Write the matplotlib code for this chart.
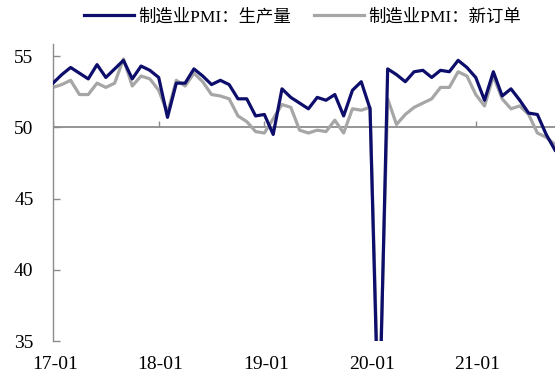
import numpy as np
import matplotlib
matplotlib.use('Agg')
import matplotlib.pyplot as plt

plt.rcParams['font.family'] = ['Liberation Serif', 'Noto Sans CJK SC']

# monthly, 2017-01 .. 2021-10
production = [53.1, 53.7, 54.2, 53.8, 53.4, 54.4, 53.5, 54.1, 54.7, 53.4, 54.3, 54.0,
              53.5, 50.7, 53.1, 53.1, 54.1, 53.6, 53.0, 53.3, 53.0, 52.0, 52.0, 50.8,
              50.9, 49.5, 52.7, 52.1, 51.7, 51.3, 52.1, 51.9, 52.3, 50.8, 52.6, 53.2,
              51.3, 27.8, 54.1, 53.7, 53.2, 53.9, 54.0, 53.5, 54.0, 53.9, 54.7, 54.2,
              53.5, 51.9, 53.9, 52.2, 52.7, 51.9, 51.0, 50.9, 49.5, 48.4]
new_orders = [52.8, 53.0, 53.3, 52.3, 52.3, 53.1, 52.8, 53.1, 54.8, 52.9, 53.6, 53.4,
              52.6, 51.0, 53.3, 52.9, 53.8, 53.2, 52.3, 52.2, 52.0, 50.8, 50.4, 49.7,
              49.6, 50.6, 51.6, 51.4, 49.8, 49.6, 49.8, 49.7, 50.5, 49.6, 51.3, 51.2,
              51.4, 29.3, 52.0, 50.2, 50.9, 51.4, 51.7, 52.0, 52.8, 52.8, 53.9, 53.6,
              52.3, 51.5, 53.6, 52.0, 51.3, 51.5, 50.9, 49.6, 49.3, 48.8]
year_labels = ['17-01', '18-01', '19-01', '20-01', '21-01']
series_names = ['制造业PMI：生产量', '制造业PMI：新订单']

x = np.arange(len(production))
jan = np.arange(0, len(production), 12)
axis_gray = '#8c8c8c'
ymin, ymax = 35, 55.85

fig = plt.figure(figsize=(5.55, 3.72), dpi=100)
ax = fig.add_axes([0.0955, 0.0833, 0.9045, 0.7985])

ax.plot(x, production, color='#0d0d6b', lw=2.3, label=series_names[0], zorder=3)
ax.plot(x, new_orders, color='#a6a6a6', lw=2.3, label=series_names[1], zorder=2)

ax.set_xlim(0, 57)
ax.set_ylim(ymin, ymax)
ax.set_yticks([35, 40, 45, 50, 55])
ax.tick_params(axis='y', direction='in', length=5, width=1, color=axis_gray,
               pad=14, labelsize=14)

ax.set_xticks(jan + 0.2)
ax.set_xticklabels(year_labels)
ax.tick_params(axis='x', length=0, pad=11, labelsize=14)

for s in ['top', 'right', 'bottom']:
    ax.spines[s].set_visible(False)
ax.spines['left'].set_color(axis_gray)
ax.spines['left'].set_linewidth(1)

# category axis crossing at 50, with short upward ticks at each January
ax.axhline(50, color=axis_gray, lw=1.3, zorder=1)
ax.vlines(jan, 50, 50 + 6 / 14.25, color=axis_gray, lw=1, zorder=1)

fig.legend(loc='center', bbox_to_anchor=(0.545, 0.954), ncol=2, frameon=False,
           fontsize=12.5, handlelength=2.9, handletextpad=0.25, columnspacing=1.3)

fig.savefig('out.png', dpi=100)
